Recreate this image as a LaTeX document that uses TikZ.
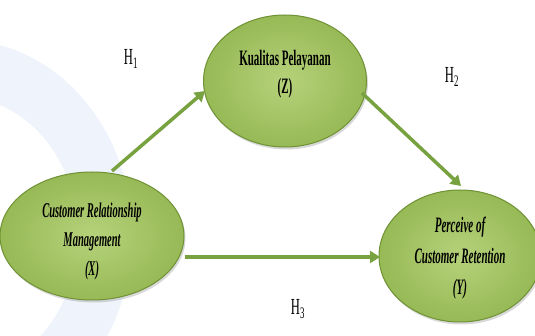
\documentclass[tikz,border=0pt]{standalone}
\usepackage{fontspec}
\setmainfont{Liberation Serif}
\newfontfamily\cond[FakeStretch=0.5]{Liberation Serif}
\newfontfamily\condh[FakeStretch=0.55]{Liberation Serif}
\usetikzlibrary{shapes.geometric,arrows.meta,shadows}
\definecolor{gIn}{HTML}{B6D27A}
\definecolor{gOut}{HTML}{97B956}
\definecolor{gEdge}{HTML}{6F9234}
\definecolor{gArrow}{HTML}{78A240}
\definecolor{wm}{HTML}{EEF3FC}
\tikzset{
  ell/.style={ellipse, draw=gEdge, line width=1pt, inner color=gIn, outer color=gOut,
    drop shadow={shadow xshift=1.5pt, shadow yshift=-2.5pt, opacity=0.3}},
  lab/.style={align=center, text=black, font=\cond\bfseries\itshape\fontsize{21}{29}\selectfont},
  hlab/.style={font=\condh\fontsize{23}{24}\selectfont, text=black},
  conn/.style={draw=gArrow, line width=3.5pt, -{Triangle[length=10pt,width=12pt]}}
}
\begin{document}
\begin{tikzpicture}[x=1pt,y=-1pt]
\useasboundingbox (0,0) rectangle (535,336);
\fill[white] (0,0) rectangle (535,336);
% faint watermark ring
\begin{scope}
\clip (0,0) rectangle (535,336);
\fill[wm, even odd rule] (-40,235) ellipse[x radius=172, y radius=195]
                       (-40,235) ellipse[x radius=118, y radius=138];
\end{scope}
% ellipses
\node[ell, minimum width=163pt, minimum height=132pt] (Z) at (285,81) {};
\node[ell, minimum width=184pt, minimum height=128pt] (X) at (92,236) {};
\node[ell, minimum width=162pt, minimum height=132pt] (Y) at (460,256) {};
% texts
\node[align=center, text=black, font=\cond\bfseries\fontsize{22}{28}\selectfont] (Zt) at (285,74) {Kualitas Pelayanan\\(Z)};
\node[lab] (Xt) at (92,241) {Customer Relationship\\Management\\(X)};
\node[lab, font=\cond\bfseries\itshape\fontsize{22}{31}\selectfont] (Yt) at (460,258) {Perceive of\\Customer Retention\\(Y)};
% connectors
\coordinate (a1) at (112,171);
\coordinate (a2) at (205,91);
\coordinate (b1) at (362,93);
\coordinate (b2) at (461,186);
\draw[conn] (a1) -- (a2);
\draw[conn] (b1) -- (b2);
\draw[conn] (X.east |- 0,257) -- (380,257);
% hypothesis labels
\node[hlab] (H1) at (131,59) {H\textsubscript{1}};
\node[hlab] (H2) at (452,77) {H\textsubscript{2}};
\node[hlab] (H3) at (298,309) {H\textsubscript{3}};
\end{tikzpicture}
\end{document}
